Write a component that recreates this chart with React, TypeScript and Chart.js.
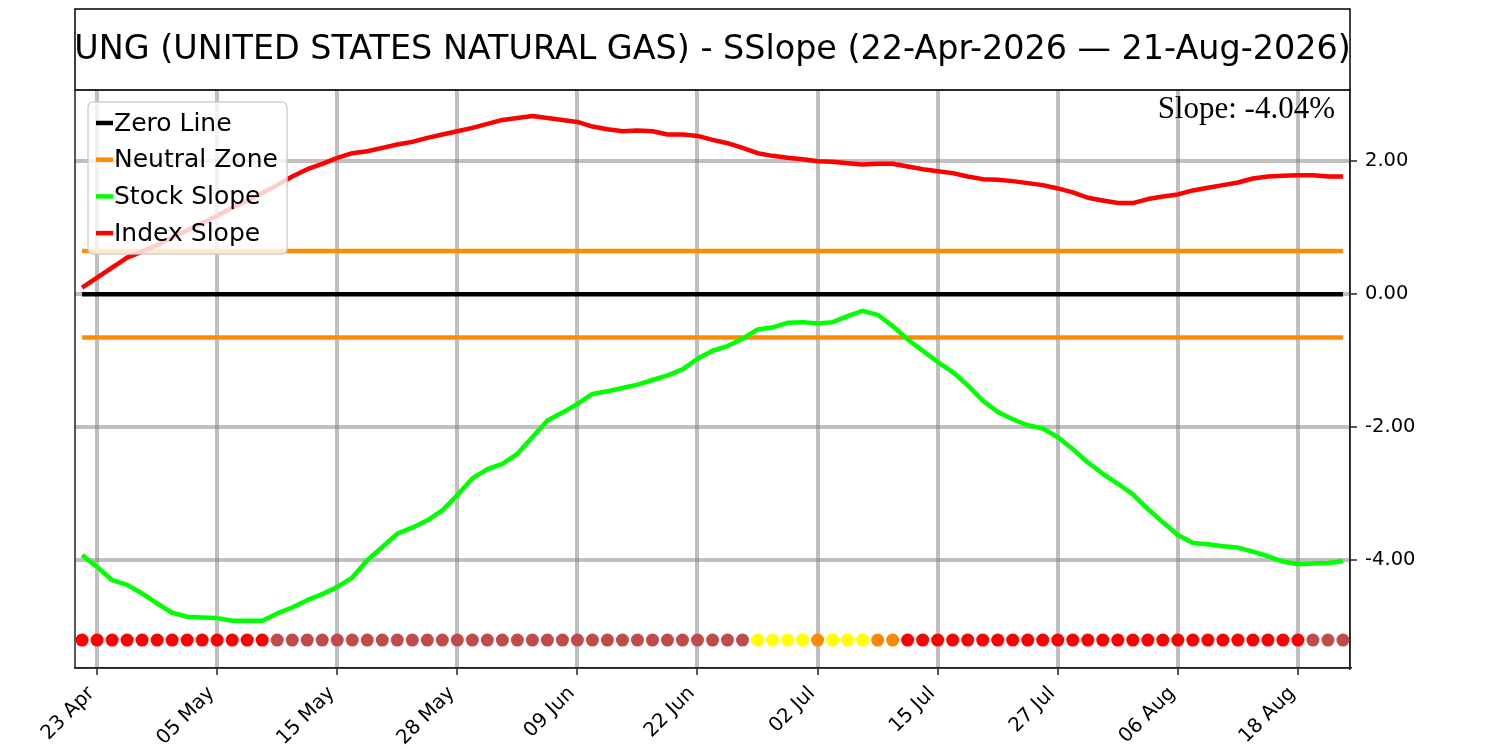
import React, { useEffect, useRef } from "react";
import { Chart, registerables } from "chart.js";

Chart.register(...registerables);

// trading days shown on the x axis (holidays skipped)
const DATES = [
  "22 Apr", "23 Apr", "24 Apr", "27 Apr", "28 Apr", "29 Apr", "30 Apr",
  "01 May", "04 May", "05 May", "06 May", "07 May", "08 May", "11 May", "12 May", "13 May", "14 May", "15 May",
  "18 May", "19 May", "20 May", "21 May", "22 May", "26 May", "27 May", "28 May", "29 May",
  "01 Jun", "02 Jun", "03 Jun", "04 Jun", "05 Jun", "08 Jun", "09 Jun", "10 Jun", "11 Jun", "12 Jun",
  "15 Jun", "16 Jun", "17 Jun", "18 Jun", "22 Jun", "23 Jun", "24 Jun", "25 Jun", "26 Jun", "29 Jun", "30 Jun",
  "01 Jul", "02 Jul", "06 Jul", "07 Jul", "08 Jul", "09 Jul", "10 Jul", "13 Jul", "14 Jul", "15 Jul",
  "16 Jul", "17 Jul", "20 Jul", "21 Jul", "22 Jul", "23 Jul", "24 Jul", "27 Jul", "28 Jul", "29 Jul", "30 Jul", "31 Jul",
  "03 Aug", "04 Aug", "05 Aug", "06 Aug", "07 Aug", "10 Aug", "11 Aug", "12 Aug", "13 Aug", "14 Aug",
  "17 Aug", "18 Aug", "19 Aug", "20 Aug", "21 Aug",
];

const INDEX_SLOPE = [
  0.10, 0.25, 0.40, 0.55, 0.64, 0.74, 0.85, 0.96, 1.07, 1.18,
  1.30, 1.41, 1.52, 1.64, 1.77, 1.88, 1.96, 2.05, 2.12, 2.15,
  2.20, 2.25, 2.29, 2.35, 2.40, 2.45, 2.50, 2.56, 2.62, 2.65,
  2.68, 2.65, 2.62, 2.59, 2.52, 2.48, 2.45, 2.46, 2.45, 2.40,
  2.40, 2.38, 2.32, 2.27, 2.20, 2.12, 2.08, 2.05, 2.03, 2.00,
  1.99, 1.97, 1.95, 1.96, 1.96, 1.92, 1.88, 1.85, 1.82, 1.77,
  1.73, 1.72, 1.70, 1.67, 1.64, 1.59, 1.53, 1.45, 1.41, 1.37,
  1.37, 1.43, 1.47, 1.50, 1.56, 1.60, 1.64, 1.68, 1.74, 1.77,
  1.78, 1.79, 1.79, 1.77, 1.77,
];

const STOCK_SLOPE = [
  -3.92, -4.10, -4.30, -4.37, -4.50, -4.65, -4.79, -4.85, -4.86, -4.87,
  -4.91, -4.91, -4.91, -4.80, -4.71, -4.60, -4.51, -4.40, -4.26, -4.00,
  -3.80, -3.60, -3.51, -3.40, -3.25, -3.02, -2.77, -2.63, -2.55, -2.40,
  -2.15, -1.90, -1.78, -1.65, -1.50, -1.46, -1.41, -1.36, -1.29, -1.22,
  -1.13, -0.97, -0.85, -0.78, -0.67, -0.53, -0.50, -0.43, -0.42, -0.44,
  -0.42, -0.33, -0.25, -0.31, -0.48, -0.68, -0.85, -1.02, -1.17, -1.37,
  -1.60, -1.77, -1.88, -1.97, -2.02, -2.15, -2.33, -2.53, -2.70, -2.85,
  -3.01, -3.23, -3.43, -3.62, -3.74, -3.76, -3.79, -3.81, -3.87, -3.94,
  -4.02, -4.06, -4.05, -4.04, -4.01,
];

// daily signal dots: R red, B brown, Y yellow, O orange
const SIGNAL = (
  "RRRRRRRRRRRRR" +
  "BBBBBBBBBBBBBBBBBBBBBBBBBBBBBBBB" +
  "YYYYOYYYOO" +
  "RRRRRRRRRRRRRRRRRRRRRRRRRRR" +
  "BBB"
).split("");
const SIGNAL_COLORS: Record<string, string> = {
  R: "#ff0000",
  B: "#c04b4b",
  Y: "#ffff00",
  O: "#ff8800",
};
const SIGNAL_LEVEL = -5.2;
const NEUTRAL = 0.65;

const Y_TICKS = [2, 0, -2, -4];
const X_TICK_START = 1;
const X_TICK_STEP = 8;

const TITLE = "UNG (UNITED STATES NATURAL GAS) - SSlope (22-Apr-2026 \u2014 21-Aug-2026)";
const SLOPE_TEXT = "Slope: -4.04%";

const SANS = '"DejaVu Sans", sans-serif';
const GRID = "rgba(128,128,128,0.5)";
const SPINE = "#222";
const LINE_W = 4.5;

const overlay = {
  id: "overlay",
  afterDraw(chart: any) {
    const { ctx, chartArea: a } = chart;
    ctx.save();

    // title box
    ctx.strokeStyle = "#000";
    ctx.lineWidth = 1.5;
    ctx.strokeRect(a.left, 9, a.right - a.left, a.top - 9);
    ctx.fillStyle = "#000";
    ctx.font = `33.4px ${SANS}`;
    ctx.textAlign = "center";
    ctx.textBaseline = "middle";
    ctx.fillText(TITLE, (a.left + a.right) / 2, (9 + a.top) / 2 + 1);

    // frame round the plot
    ctx.strokeStyle = SPINE;
    ctx.strokeRect(a.left, a.top, a.right - a.left, a.bottom - a.top);

    ctx.font = '31px "Liberation Serif", serif';
    ctx.textAlign = "right";
    ctx.textBaseline = "alphabetic";
    ctx.fillStyle = "#000";
    ctx.fillText(SLOPE_TEXT, a.right - 15, a.top + 28);

    // rotated date labels, end of text just under the tick
    const xs = chart.scales.x;
    ctx.font = `19.8px ${SANS}`;
    ctx.textAlign = "right";
    ctx.textBaseline = "alphabetic";
    xs.ticks.forEach((t: any) => {
      const px = xs.getPixelForValue(t.value);
      ctx.save();
      ctx.translate(px - 2, a.bottom + 26);
      ctx.rotate(-Math.PI / 4);
      ctx.fillText(DATES[t.value] ?? "", 0, 0);
      ctx.restore();
    });

    // legend
    const items = chart.data.datasets.filter((d: any) => !d.label.startsWith("_"));
    const bx = a.left + 13;
    const by = a.top + 12;
    ctx.beginPath();
    ctx.roundRect(bx, by, 199, 152, 5);
    ctx.fillStyle = "rgba(255,255,255,0.8)";
    ctx.fill();
    ctx.strokeStyle = "rgba(204,204,204,0.9)";
    ctx.lineWidth = 1.5;
    ctx.stroke();
    ctx.font = `25px ${SANS}`;
    ctx.textAlign = "left";
    ctx.textBaseline = "middle";
    items.forEach((d: any, i: number) => {
      const y = by + 21 + i * 36.7;
      ctx.strokeStyle = d.borderColor;
      ctx.lineWidth = LINE_W;
      ctx.beginPath();
      ctx.moveTo(bx + 8, y);
      ctx.lineTo(bx + 25, y);
      ctx.stroke();
      ctx.fillStyle = "#000";
      ctx.fillText(d.label, bx + 26, y + 1);
    });
    ctx.restore();
  },
};

const App: React.FC = () => {
  const canvasRef = useRef<HTMLCanvasElement | null>(null);

  useEffect(() => {
    if (!canvasRef.current) return;
    const last = DATES.length - 1;
    const line = (label: string, data: { x: number; y: number }[], color: string, order: number) => ({
      type: "line" as const,
      label,
      data,
      borderColor: color,
      backgroundColor: color,
      borderWidth: LINE_W,
      pointRadius: 0,
      borderJoinStyle: "round" as const,
      tension: 0,
      order,
    });

    const chart = new Chart(canvasRef.current, {
      type: "line",
      data: {
        datasets: [
          line("Zero Line", [{ x: 0, y: 0 }, { x: last, y: 0 }], "#000000", 4),
          line("Neutral Zone", [{ x: 0, y: NEUTRAL }, { x: last, y: NEUTRAL }], "#ff8c00", 3),
          line("_neutral_low", [{ x: 0, y: -NEUTRAL }, { x: last, y: -NEUTRAL }], "#ff8c00", 3),
          line("Stock Slope", STOCK_SLOPE.map((y, x) => ({ x, y })), "#00ff00", 2),
          line("Index Slope", INDEX_SLOPE.map((y, x) => ({ x, y })), "#ff0000", 1),
          {
            type: "scatter" as const,
            label: "_signal",
            data: SIGNAL.map((_, x) => ({ x, y: SIGNAL_LEVEL })),
            pointBackgroundColor: SIGNAL.map((c) => SIGNAL_COLORS[c]),
            pointBorderWidth: 0,
            pointRadius: 6.5,
            showLine: false,
            order: 5,
          } as any,
        ],
      },
      options: {
        responsive: false,
        maintainAspectRatio: false,
        animation: false,
        layout: { padding: { left: 75, top: 90, right: 0, bottom: 0 } },
        plugins: {
          legend: { display: false },
          tooltip: { enabled: false },
        },
        scales: {
          x: {
            type: "linear",
            min: -0.47,
            max: last + 0.47,
            afterBuildTicks: (scale: any) => {
              const t = [];
              for (let v = X_TICK_START; v <= last; v += X_TICK_STEP) t.push({ value: v });
              scale.ticks = t;
            },
            afterFit: (scale: any) => {
              scale.height = 82;
            },
            ticks: { display: false },
            grid: {
              color: GRID,
              lineWidth: 4,
              tickColor: SPINE,
              tickWidth: 1.5,
              tickLength: 7,
            },
            border: { display: true, color: SPINE, width: 1.5 },
          },
          y: {
            type: "linear",
            position: "right",
            min: -5.62,
            max: 3.07,
            afterBuildTicks: (scale: any) => {
              scale.ticks = Y_TICKS.map((value) => ({ value }));
            },
            afterFit: (scale: any) => {
              scale.width = 150;
            },
            ticks: {
              padding: 8,
              color: "#000",
              font: { family: SANS, size: 19.5 },
              callback: (v: any) => Number(v).toFixed(2),
            },
            grid: {
              color: GRID,
              lineWidth: 4,
              tickColor: SPINE,
              tickWidth: 1.5,
              tickLength: 7,
            },
            border: { display: true, color: SPINE, width: 1.5 },
          },
        },
      },
      plugins: [overlay],
    });

    return () => chart.destroy();
  }, []);

  return (
    <div style={{ position: "absolute", left: 0, top: 0, width: 1500, height: 750, background: "#fff" }}>
      <canvas ref={canvasRef} width={1500} height={750} />
    </div>
  );
};

export default App;
